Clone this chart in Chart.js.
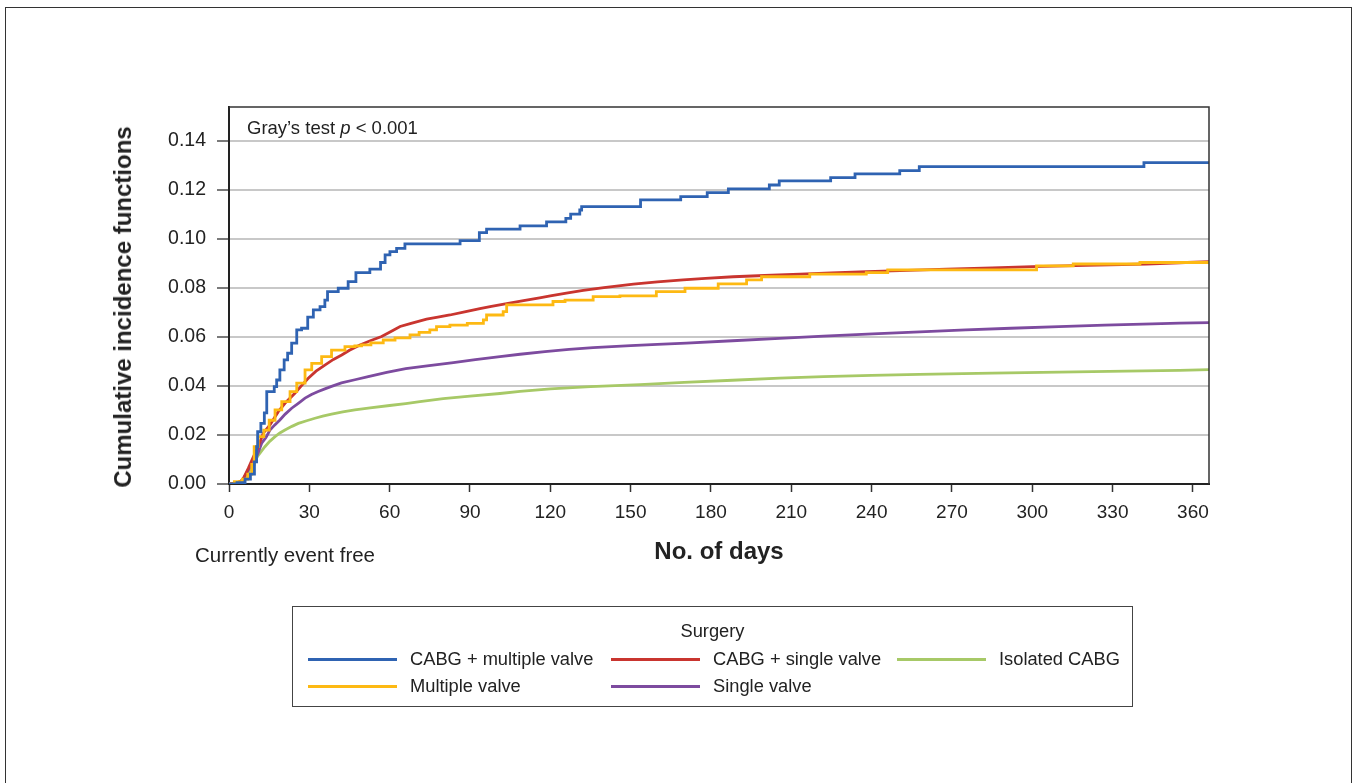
<!DOCTYPE html>
<html>
<head>
<meta charset="utf-8">
<title>Cumulative incidence functions by surgery</title>
<script src="https://cdn.jsdelivr.net/npm/chart.js@4.4.1/dist/chart.umd.min.js"></script>
<style>
  html, body { margin: 0; padding: 0; background: #fff; }
  body {
    width: 1356px; height: 783px; position: relative; overflow: hidden;
    font-family: "Liberation Sans", Arial, Helvetica, sans-serif; color: #222;
  }
  #frame {
    position: absolute; left: 5px; top: 7px; width: 1347px; height: 820px;
    border: 1.5px solid #333; box-sizing: border-box;
  }
  #chart { position: absolute; left: 0; top: 0; }
  .note { position: absolute; white-space: nowrap; line-height: 1; }
  #gray { left: 247px; top: 119px; font-size: 18.5px; }
  #free { left: 195px; top: 545px; font-size: 20.5px; }
  #ytitle {
    position: absolute; left: 123px; top: 307px; font-size: 24px; font-weight: bold;
    white-space: nowrap; line-height: 1; transform: translate(-50%, -50%) rotate(-90deg);
  }
  #legend {
    position: absolute; left: 292px; top: 606px; width: 841px; height: 101px;
    border: 1.5px solid #444; box-sizing: border-box; font-size: 18.3px;
  }
  #legend .ttl { position: absolute; left: 0; right: 0; top: 13px; text-align: center; }
  #legend .item { position: absolute; white-space: nowrap; line-height: 1; }
  #legend .swatch { position: absolute; left: 0; top: 8px; width: 89px; height: 3px; }
  #legend .lbl { position: absolute; left: 102px; top: 0; }
</style>
</head>
<body>
<div id="frame"></div>
<canvas id="chart" width="1356" height="783"></canvas>
<div class="note" id="gray">Gray’s test <i>p</i> &lt; 0.001</div>
<div class="note" id="free">Currently event free</div>
<div id="ytitle">Cumulative incidence functions</div>
<div id="legend"><div class="ttl">Surgery</div></div>

<script>
// ---- data (day, cumulative incidence) ----
const surgeryNames = ['CABG + multiple valve', 'Multiple valve', 'CABG + single valve', 'Single valve', 'Isolated CABG'];
const surgeryColors = ['#2f63b2', '#fdb913', '#c9352f', '#7d4b9f', '#a7c967'];
// the two small groups have visible steps, the big ones look almost smooth
const surgeryStepped = [true, true, false, false, false];

const cabgMultiDays = [0, 3, 6, 8, 9.5, 10.3, 10.7, 11.9, 13.2, 14.1, 16.9, 17.8, 19, 20.6, 21.9, 23.4, 25.3, 27.1,
  29.4, 31.5, 34, 35.8, 36.8, 40.8, 44.5, 47.4, 52.6, 56.6, 58.3, 60.1, 62.6, 65.7, 86.3, 93.5, 96.2, 108.7,
  118.6, 125.8, 127.6, 131, 131.7, 153.7, 168.7, 178.6, 186.5, 201.8, 205.5, 224.7, 233.8, 250.5, 257.8, 341.7, 366];
const cabgMultiCif = [0, 0.0005, 0.002, 0.004, 0.009, 0.0152, 0.0213, 0.0247, 0.029, 0.0377, 0.0397, 0.0424, 0.0465,
  0.0506, 0.0533, 0.0574, 0.0628, 0.0635, 0.068, 0.071, 0.0723, 0.075, 0.0784, 0.0798, 0.0825, 0.0862, 0.0876,
  0.0903, 0.0934, 0.0947, 0.0961, 0.0979, 0.0992, 0.1025, 0.1039, 0.1052, 0.1069, 0.1083, 0.11, 0.1117, 0.1131,
  0.1158, 0.1172, 0.1188, 0.1203, 0.1219, 0.1236, 0.1249, 0.1264, 0.1278, 0.1294, 0.131, 0.131];

const multiValveDays = [0, 2, 5, 7, 8.5, 9.4, 10.9, 13, 15, 17.2, 19.7, 22.8, 25.3, 28.4, 30.9, 34.6, 38.3, 43.3, 47,
  49.5, 53, 57.6, 62, 67.6, 71, 75, 77.5, 82.5, 89, 95, 96.2, 102.4, 103.7, 121, 125.5, 136, 146, 159.6, 170.3,
  182.7, 193.3, 198.9, 216.9, 238, 246, 301.6, 315.3, 340.2, 366];
const multiValveCif = [0, 0.001, 0.002, 0.004, 0.008, 0.0152, 0.0193, 0.022, 0.026, 0.0302, 0.0336, 0.0377, 0.0411,
  0.0465, 0.0492, 0.0519, 0.0546, 0.056, 0.0563, 0.0567, 0.0575, 0.0587, 0.0596, 0.0608, 0.0618, 0.0628, 0.0642,
  0.0648, 0.0655, 0.0669, 0.0689, 0.0703, 0.073, 0.0744, 0.075, 0.0764, 0.0767, 0.0784, 0.0798, 0.0816, 0.0832,
  0.0845, 0.0856, 0.0862, 0.0873, 0.0889, 0.0897, 0.0903, 0.0907];

const cabgSingleDays = [0, 3, 5, 7.2, 9.1, 10.9, 12.8, 15.3, 18.4, 20.9, 24.6, 27, 29.6, 32.5, 35.8, 39, 42.1, 45,
  48.9, 53, 57, 60.5, 63.9, 68, 73.8, 78, 82.5, 88, 93.7, 98, 103.7, 110, 116, 120, 126, 132.3, 140, 151, 160,
  169.6, 178, 188.3, 200, 213.2, 225, 238.1, 250.6, 268, 285, 300, 320, 342.7, 355, 366];
const cabgSingleCif = [0, 0.0005, 0.0015, 0.0064, 0.0111, 0.0152, 0.0207, 0.0241, 0.0295, 0.0329, 0.037, 0.04,
  0.0431, 0.046, 0.0485, 0.0508, 0.0526, 0.0545, 0.0567, 0.0585, 0.0601, 0.0622, 0.0642, 0.0655, 0.0672, 0.068,
  0.0689, 0.0702, 0.0715, 0.0724, 0.0735, 0.0748, 0.0759, 0.0767, 0.0778, 0.0789, 0.0801, 0.0815, 0.0824, 0.0832,
  0.0838, 0.0845, 0.085, 0.0856, 0.0861, 0.0866, 0.087, 0.0876, 0.0881, 0.0886, 0.0891, 0.0897, 0.0902, 0.0907];

const singleValveDays = [0, 3, 5, 7.2, 8.8, 10.3, 12.2, 13.8, 15.3, 17, 19, 21, 23.4, 26, 28.4, 30.8, 33.3, 35.8,
  38.3, 42, 47, 52, 58.9, 66, 74, 83.8, 92, 101.2, 108.7, 118, 127, 136, 150, 160, 170.8, 188, 205.6, 222, 240.4,
  258, 275.2, 292, 310, 327, 344.8, 355, 366];
const singleValveCif = [0, 0.0004, 0.0015, 0.0057, 0.0085, 0.0111, 0.0166, 0.019, 0.022, 0.024, 0.0261, 0.0285,
  0.0309, 0.033, 0.035, 0.0365, 0.0377, 0.0388, 0.0398, 0.0412, 0.0425, 0.0438, 0.0455, 0.047, 0.0482, 0.0495,
  0.0507, 0.0519, 0.0529, 0.054, 0.0549, 0.0556, 0.0564, 0.0569, 0.0574, 0.0584, 0.0594, 0.0603, 0.0612, 0.062,
  0.0628, 0.0635, 0.0642, 0.0648, 0.0653, 0.0656, 0.0658];

const isolatedDays = [0, 3, 5, 7, 9.1, 11, 13.4, 15.3, 17.2, 19, 20.9, 23.5, 25.9, 29, 32.1, 35, 38.3, 42.5, 47, 52.7,
  60, 66, 71.3, 80, 90, 101.2, 108.7, 120, 135, 153.4, 170, 188, 205.6, 222, 240, 257.8, 285, 310, 335, 355, 366];
const isolatedCif = [0, 0.0003, 0.0012, 0.004, 0.0084, 0.0118, 0.0152, 0.0175, 0.0193, 0.0208, 0.022, 0.0235, 0.0247,
  0.0258, 0.0268, 0.0277, 0.0285, 0.0294, 0.0302, 0.031, 0.032, 0.0328, 0.0336, 0.0348, 0.0358, 0.0369, 0.0378,
  0.0388, 0.0397, 0.0405, 0.0414, 0.0423, 0.0432, 0.0438, 0.0443, 0.0447, 0.0452, 0.0456, 0.046, 0.0463, 0.0466];

const seriesDays = [cabgMultiDays, multiValveDays, cabgSingleDays, singleValveDays, isolatedDays];
const seriesCif = [cabgMultiCif, multiValveCif, cabgSingleCif, singleValveCif, isolatedCif];

const FONT = '"Liberation Sans", Arial, Helvetica, sans-serif';

// Pair up day/value arrays into points for the linear x scale
function toPoints(days, vals) {
  return days.map((d, i) => ({ x: d, y: vals[i] }));
}

// Thin frame on the top and right of the plot area
const plotFrame = {
  id: 'plotFrame',
  afterDraw(chart) {
    const { ctx, chartArea: a } = chart;
    ctx.save();
    ctx.strokeStyle = '#333';
    ctx.lineWidth = 1.5;
    ctx.beginPath();
    ctx.moveTo(a.left, a.top);
    ctx.lineTo(a.right, a.top);
    ctx.lineTo(a.right, a.bottom);
    ctx.stroke();
    ctx.restore();
  }
};

const chart = new Chart(document.getElementById('chart'), {
  type: 'line',
  data: {
    datasets: surgeryNames.map((name, i) => ({
      label: name,
      data: toPoints(seriesDays[i], seriesCif[i]),
      borderColor: surgeryColors[i],
      borderWidth: 2.8,
      stepped: surgeryStepped[i],
      tension: 0,
      pointRadius: 0,
      fill: false
    }))
  },
  options: {
    responsive: false,
    animation: false,
    devicePixelRatio: 1,
    layout: { padding: { left: 108, top: 107, right: 147, bottom: 209 } },
    plugins: { legend: { display: false }, tooltip: { enabled: false } },
    scales: {
      x: {
        type: 'linear',
        min: 0,
        max: 366,
        afterFit(scale) { scale.height = 90; },
        ticks: {
          stepSize: 30,
          includeBounds: false,
          padding: 9,
          color: '#222',
          font: { family: FONT, size: 19 }
        },
        grid: { drawOnChartArea: false, drawTicks: true, tickLength: 8, tickColor: '#333', tickWidth: 1.5 },
        border: { color: '#222', width: 2 },
        title: {
          display: true,
          text: 'No. of days',
          color: '#222',
          font: { family: FONT, size: 24, weight: 'bold' },
          padding: { top: 0, bottom: 7 }
        }
      },
      y: {
        min: 0,
        max: 0.1537,
        afterFit(scale) { scale.width = 121; },
        ticks: {
          stepSize: 0.02,
          includeBounds: false,
          padding: 11,
          color: '#222',
          font: { family: FONT, size: 19.5 },
          callback: v => v.toFixed(2)
        },
        grid: { color: '#c8c8c8', lineWidth: 2, tickLength: 12, tickColor: '#7a7a7a', tickWidth: 2 },
        border: { color: '#222', width: 2 }
      }
    }
  },
  plugins: [plotFrame]
});

// HTML legend in the boxed layout of the figure: two rows, filled column by column
const legendBox = document.getElementById('legend');
const colLeft = [15, 318, 604];
surgeryNames.forEach((name, i) => {
  const item = document.createElement('div');
  item.className = 'item';
  item.style.left = colLeft[Math.floor(i / 2)] + 'px';
  item.style.top = (i % 2 === 0 ? 43 : 70) + 'px';
  item.innerHTML = '<div class="swatch" style="background:' + surgeryColors[i] + '"></div>' +
    '<div class="lbl">' + name + '</div>';
  legendBox.appendChild(item);
});
</script>
</body>
</html>
